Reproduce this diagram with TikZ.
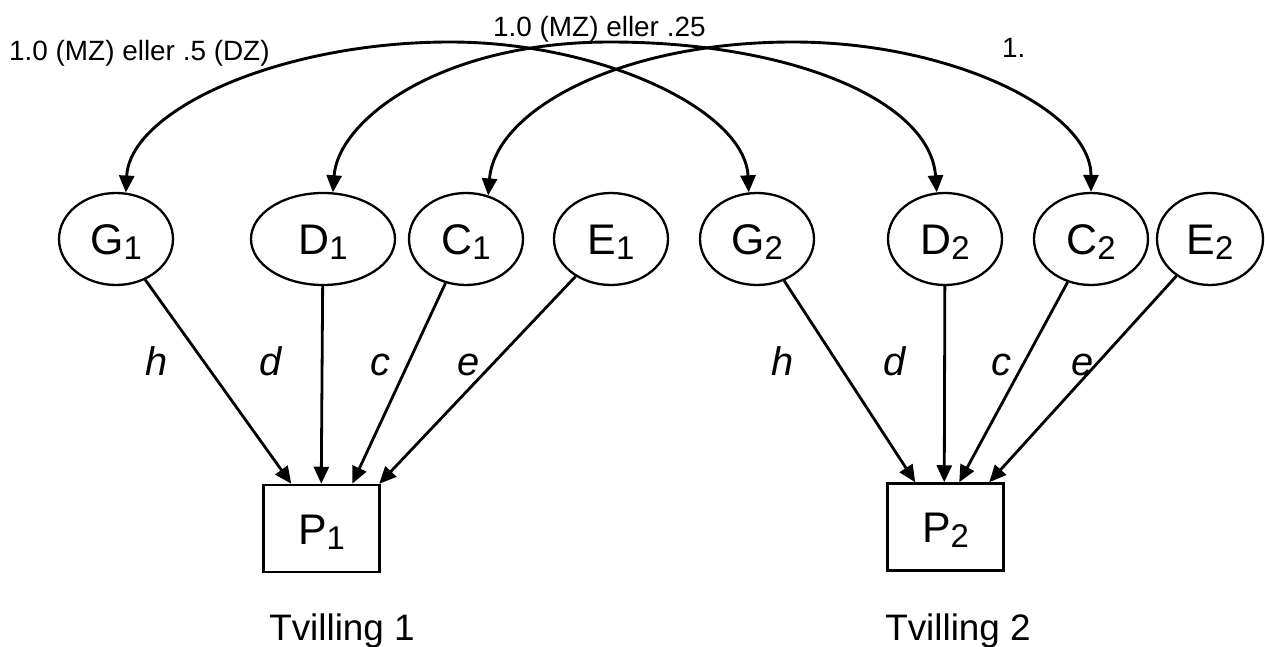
\documentclass[tikz,border=0pt]{standalone}
\usepackage{fontspec}
\setmainfont{Liberation Sans}
\usetikzlibrary{arrows.meta,shapes.geometric,calc}
\newcommand{\lsub}[1]{\raisebox{-5bp}{\fontsize{33}{35}\selectfont #1}}
\begin{document}
\begin{tikzpicture}[x=1bp,y=-1bp,
  latent/.style={ellipse,draw,line width=2.3bp,minimum height=92bp,inner sep=0pt,
    text height=31bp,text depth=0bp,font=\fontsize{43}{45}\selectfont},
  obs/.style={rectangle,draw,line width=2.5bp,minimum width=116bp,minimum height=87bp,inner sep=0pt,
    text height=31bp,text depth=0bp,font=\fontsize{43}{45}\selectfont},
  effect/.style={line width=2.8bp,-{Triangle[length=17bp,width=15bp]}},
  corr/.style={line width=2.9bp,{Triangle[length=17bp,width=15bp]}-{Triangle[length=17bp,width=15bp]}},
  coef/.style={font=\fontsize{40}{42}\selectfont\itshape,anchor=base,inner sep=0pt},
  lbl/.style={font=\fontsize{28}{30}\selectfont,anchor=base west,inner sep=0pt},
  twin/.style={font=\fontsize{37}{39}\selectfont,anchor=base,inner sep=0pt}
]
\useasboundingbox[fill=white] (0,0) rectangle (1265,647);

% latent variables
\node[latent,minimum width=114bp] (G1) at (116,239) {G\lsub{1}};
\node[latent,minimum width=144bp] (D1) at (323,239) {D\lsub{1}};
\node[latent,minimum width=114bp] (C1) at (466,239) {C\lsub{1}};
\node[latent,minimum width=114bp] (E1) at (611,239) {E\lsub{1}};
\node[latent,minimum width=114bp] (G2) at (757,239) {G\lsub{2}};
\node[latent,minimum width=114bp] (D2) at (945,239) {D\lsub{2}};
\node[latent,minimum width=114bp] (C2) at (1091,239) {C\lsub{2}};
\node[latent,minimum width=106bp] (E2) at (1210,239) {E\lsub{2}};

% observed
\node[obs] (P1) at (321.5,528.5) {P\lsub{1}};
\node[obs] (P2) at (945.5,527) {P\lsub{2}};

\coordinate (P1h) at ($(P1.north west)+(29,0)$);
\coordinate (P1d) at ($(P1.north west)+(59,0)$);
\coordinate (P1c) at ($(P1.north west)+(90,0)$);
\coordinate (P1e) at ($(P1.north west)+(117,0)$);
\coordinate (P2h) at ($(P2.north west)+(29,0)$);
\coordinate (P2d) at ($(P2.north west)+(58,0)$);
\coordinate (P2c) at ($(P2.north west)+(73,0)$);
\coordinate (P2e) at ($(P2.north west)+(103,0)$);

\draw[effect] (G1) -- (P1h);
\draw[effect] (D1) -- (P1d);
\draw[effect] (C1) -- (P1c);
\draw[effect] (E1) -- (P1e);
\draw[effect] (G2) -- (P2h);
\draw[effect] (D2) -- (P2d);
\draw[effect] (C2) -- (P2c);
\draw[effect] (E2) -- (P2e);

% coefficient labels
\node[coef] (h1) at (157,376) {h};
\node[coef] (d1) at (271,376) {d};
\node[coef] (c1) at (380,376) {c};
\node[coef] (e1) at (469,376) {e};
\node[coef] (h2) at (783,376) {h};
\node[coef] (d2) at (895,376) {d};
\node[coef] (c2) at (1001,376) {c};
\node[coef] (e2) at (1083,376) {e};

% correlations
\draw[corr] (G1.78) .. controls (130,110) and (280,42) .. (450,42)
  .. controls (600,42) and (745,110) .. (G2.100);
\draw[corr] (D1.78) .. controls (338,120) and (440,42) .. (610,42)
  .. controls (790,42) and (930,100) .. (D2.100);
\draw[corr] (C1.63) .. controls (495,110) and (620,42) .. (793,42)
  .. controls (950,42) and (1091,110) .. (C2.90);

\node[lbl] (r1) at (9,61) {1.0 (MZ) eller .5 (DZ)};
\node[lbl] (r2) at (493,37) {1.0 (MZ) eller .25};
\node[lbl] (r3) at (1002,58) {1.};

\node[twin] (T1) at (342,640) {Tvilling 1};
\node[twin] (T2) at (958,640) {Tvilling 2};
\end{tikzpicture}
\end{document}
